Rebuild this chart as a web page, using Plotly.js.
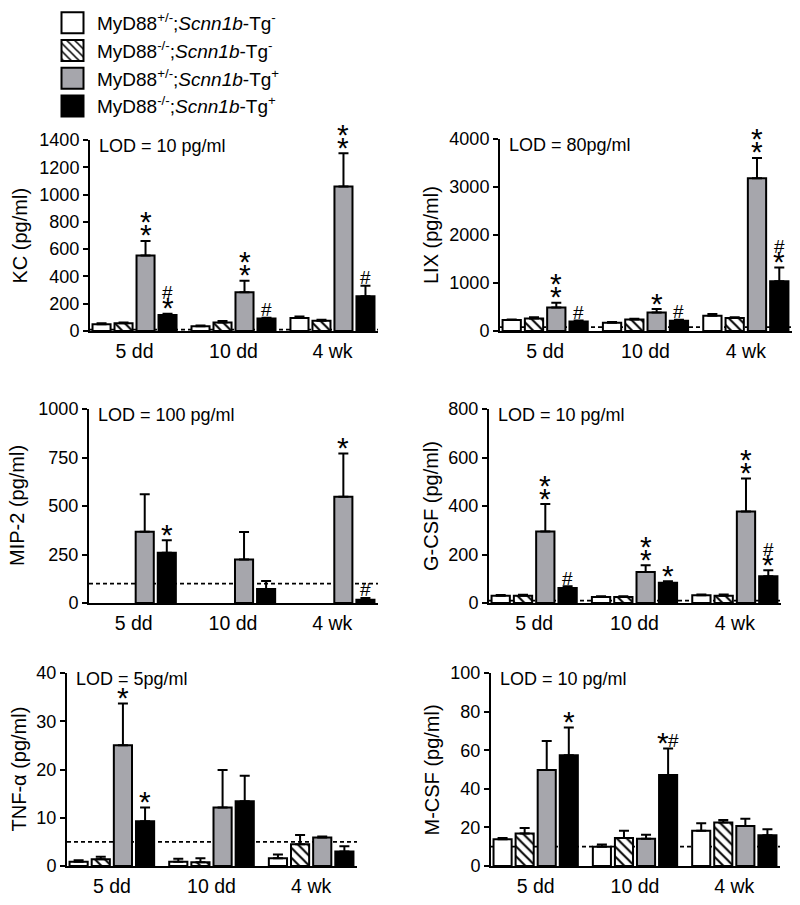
<!DOCTYPE html>
<html>
<head>
<meta charset="utf-8">
<script src="https://cdn.plot.ly/plotly-3.0.1.min.js"></script>
<style>
  html, body { margin: 0; padding: 0; background: #ffffff; }
  #chart { width: 800px; height: 905px; }
</style>
</head>
<body>
<div id="chart"></div>
<script>
// ---------------- DATA ----------------
const timepoints = ['5 dd', '10 dd', '4 wk'];
const groupNames = [
  'MyD88<sup>+/-</sup>;<i>Scnn1b</i>-Tg<sup>-</sup>',
  'MyD88<sup>-/-</sup>;<i>Scnn1b</i>-Tg<sup>-</sup>',
  'MyD88<sup>+/-</sup>;<i>Scnn1b</i>-Tg<sup>+</sup>',
  'MyD88<sup>-/-</sup>;<i>Scnn1b</i>-Tg<sup>+</sup>'
];

// KC (pg/ml): rows = groups (white, hatched, gray, black), columns = timepoints
const kcMean = [[50, 35, 96], [56, 62, 76], [553, 284, 1059], [118, 91, 255]];
const kcSem  = [[6, 6, 10], [7, 12, 7], [107, 85, 244], [8, 6, 76]];
const kcMarks = [[0, 2, ['*', '*']], [0, 3, ['*', '#']], [1, 2, ['*', '*']], [1, 3, ['#']], [2, 2, ['*', '*']], [2, 3, ['#']]];

// LIX (pg/ml)
const lixMean = [[230, 173, 318], [263, 242, 270], [491, 388, 3183], [200, 215, 1038]];
const lixSem  = [[12, 14, 35], [21, 14, 14], [97, 69, 423], [21, 20, 284]];
const lixMarks = [[0, 2, ['*', '*']], [0, 3, ['#']], [1, 2, ['*']], [1, 3, ['#']], [2, 2, ['*', '*']], [2, 3, ['*', '#']]];

// MIP-2 (pg/ml) - first two groups below detection (no bar)
const mipMean = [[null, null, null], [null, null, null], [367, 224, 548], [259, 72, 17]];
const mipSem  = [[null, null, null], [null, null, null], [193, 142, 223], [65, 42, 9]];
const mipMarks = [[0, 3, ['*']], [2, 2, ['*']], [2, 3, ['#']]];

// G-CSF (pg/ml)
const gcsfMean = [[30, 25, 32], [30, 25, 30], [295, 128, 377], [62, 83, 110]];
const gcsfSem  = [[3, 3, 3], [4, 3, 5], [113, 28, 136], [7, 7, 25]];
const gcsfMarks = [[0, 2, ['*', '*']], [0, 3, ['#']], [1, 2, ['*', '*']], [1, 3, ['*']], [2, 2, ['*', '*']], [2, 3, ['*', '#']]];

// TNF-alpha (pg/ml)
const tnfMean = [[0.9, 0.9, 1.6], [1.4, 0.8, 4.5], [25.0, 12.1, 5.9], [9.3, 13.4, 3.0]];
const tnfSem  = [[0.3, 0.6, 0.8], [0.5, 0.8, 1.9], [8.7, 7.8, 0.2], [2.8, 5.3, 1.1]];
const tnfMarks = [[0, 2, ['*']], [0, 3, ['*']]];

// M-CSF (pg/ml)
const mcsfMean = [[13.8, 10.0, 18.3], [16.9, 14.5, 22.6], [49.7, 14.1, 20.7], [57.4, 47.1, 15.9]];
const mcsfSem  = [[0.7, 1.2, 3.8], [2.8, 3.8, 1.2], [15.1, 2.1, 3.8], [14.3, 13.8, 3.1]];
const mcsfMarks = [[0, 3, ['*']], [1, 3, ['*#']]];

// Limits of detection and labels
const lodValues = [10, 80, 100, 10, 5, 10];
const lodLabels = ['LOD = 10 pg/ml', 'LOD = 80pg/ml', 'LOD = 100 pg/ml', 'LOD = 10 pg/ml', 'LOD = 5pg/ml', 'LOD = 10 pg/ml'];
const yTitles = ['KC (pg/ml)', 'LIX (pg/ml)', 'MIP-2 (pg/ml)', 'G-CSF (pg/ml)', 'TNF-α (pg/ml)', 'M-CSF (pg/ml)'];
const yMax = [1400, 4000, 1000, 800, 40, 100];
const yStep = [200, 1000, 250, 200, 10, 20];

// ---------------- STYLE / LAYOUT ----------------
const W = 800, H = 905;
const FONT = 'Liberation Sans, Arial, Helvetica, sans-serif';
const fills = ['#ffffff', '#ffffff', '#a6a6ac', '#000000'];
const BARGAP = 0.111, BARGROUPGAP = 0.18;
const pitch = (1 - BARGAP) / 4;

// pixel geometry for each panel: axis left/right, top/bottom, title x
const geom = [
  { l: 90,  r: 378, t: 140, b: 331, tx: 19 },
  { l: 500, r: 792, t: 139, b: 331, tx: 431 },
  { l: 89,  r: 378, t: 409, b: 603, tx: 17 },
  { l: 489, r: 781, t: 409, b: 603, tx: 431 },
  { l: 67,  r: 357, t: 673, b: 866, tx: 18 },
  { l: 491, r: 780, t: 673, b: 866, tx: 431 }
];

const means = [kcMean, lixMean, mipMean, gcsfMean, tnfMean, mcsfMean];
const sems = [kcSem, lixSem, mipSem, gcsfSem, tnfSem, mcsfSem];
const marks = [kcMarks, lixMarks, mipMarks, gcsfMarks, tnfMarks, mcsfMarks];

const px = x => x / W;
const py = y => 1 - y / H;

const traces = [];
const layout = {
  width: W, height: H,
  margin: { l: 0, r: 0, t: 0, b: 0 },
  paper_bgcolor: '#ffffff', plot_bgcolor: 'rgba(0,0,0,0)',
  font: { family: FONT, color: '#000000', size: 17 },
  barmode: 'group', bargap: BARGAP, bargroupgap: BARGROUPGAP,
  showlegend: true,
  legend: {
    x: px(57), y: py(4), xanchor: 'left', yanchor: 'top',
    bgcolor: 'rgba(0,0,0,0)', borderwidth: 0,
    font: { family: FONT, size: 19, color: '#000' },
    traceorder: 'normal'
  },
  annotations: [], shapes: []
};

const glyphStyle = {
  '*': { size: 30, dy: -3 },
  '#': { size: 19, dy: -1 }
};
const ROW_GAP = 13;

for (let p = 0; p < 6; p++) {
  const s = p === 0 ? '' : String(p + 1);
  const g = geom[p];
  for (let k = 0; k < 4; k++) {
    const tr = {
      type: 'bar',
      x: timepoints,
      y: means[p][k],
      name: groupNames[k],
      showlegend: p === 0,
      legendgroup: 'g' + k,
      xaxis: 'x' + s, yaxis: 'y' + s,
      hoverinfo: 'skip',
      marker: { color: fills[k], line: { color: '#000000', width: 2 } },
      error_y: {
        type: 'data', symmetric: false,
        array: sems[p][k],
        arrayminus: sems[p][k].map(() => 0),
        color: '#000000', thickness: 2, width: 5
      }
    };
    if (k === 1) {
      tr.marker.pattern = { shape: '\\', fgcolor: '#000000', bgcolor: '#ffffff', size: 7, solidity: 0.28, fillmode: 'replace' };
    }
    traces.push(tr);
  }
  layout['xaxis' + s] = {
    domain: [px(g.l), px(g.r)], anchor: 'y' + s,
    type: 'category', range: [-0.45, 2.46],
    showline: true, linecolor: '#000', linewidth: 2,
    ticks: '', showgrid: false, zeroline: false, fixedrange: true,
    ticklabelstandoff: 2,
    tickfont: { family: FONT, size: 19.5, color: '#000' }
  };
  layout['yaxis' + s] = {
    domain: [py(g.b), py(g.t)], anchor: 'x' + s,
    range: [0, yMax[p]], tick0: 0, dtick: yStep[p],
    showline: true, linecolor: '#000', linewidth: 2,
    ticks: 'outside', ticklen: 5, tickwidth: 2, tickcolor: '#000',
    showgrid: false, zeroline: false, fixedrange: true,
    tickfont: { family: FONT, size: 18, color: '#000' }
  };
  // LOD dashed line
  layout.shapes.push({
    type: 'line', xref: 'x' + s + ' domain', yref: 'y' + s,
    x0: 0, x1: 1, y0: lodValues[p], y1: lodValues[p],
    line: { color: '#000', width: 1.8, dash: '4px,3px' }, layer: 'below'
  });
  // LOD text
  layout.annotations.push({
    xref: 'paper', yref: 'paper', x: px(g.l + 7), y: py(g.t + 6),
    xanchor: 'left', yanchor: 'middle', showarrow: false,
    text: lodLabels[p], font: { family: FONT, size: 18, color: '#000' }
  });
  // y title
  layout.annotations.push({
    xref: 'paper', yref: 'paper', x: px(g.tx), y: py((g.t + g.b) / 2),
    xanchor: 'center', yanchor: 'middle', showarrow: false, textangle: -90,
    text: yTitles[p], font: { family: FONT, size: 20, color: '#000' }
  });
  // significance marks
  marks[p].forEach(([ti, gi, rows]) => {
    const m = means[p][gi][ti];
    const e = sems[p][gi][ti] || 0;
    const xc = ti + (gi - 1.5) * pitch;
    rows.forEach((row, ri) => {
      const chars = row.split('');
      chars.forEach((ch, ci) => {
        const st = glyphStyle[ch];
        layout.annotations.push({
          xref: 'x' + s, yref: 'y' + s, x: xc, y: m + e,
          xanchor: 'center', yanchor: 'middle', showarrow: false,
          xshift: (ci - (chars.length - 1) / 2) * 11,
          yshift: 9 + ri * ROW_GAP + st.dy,
          text: ch, font: { family: FONT, size: st.size, color: '#000' }
        });
      });
    });
  });
}

Plotly.newPlot('chart', traces, layout, { staticPlot: true, displayModeBar: false }).then(() => {
  document.querySelectorAll('.legend .legendpoints path').forEach(path => {
    path.setAttribute('d', 'M6.5,10.5H-15.5V-10.5H6.5Z');
  });
});
</script>
</body>
</html>
